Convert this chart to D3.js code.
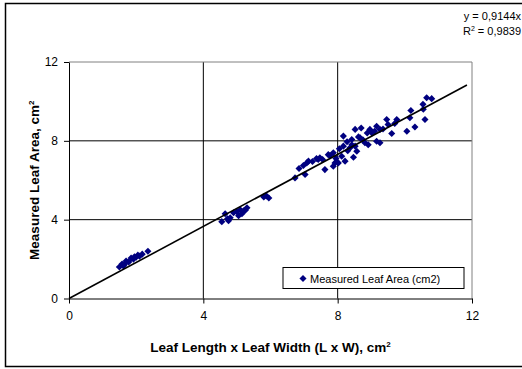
<!DOCTYPE html>
<html lang="en">
<head>
<meta charset="UTF-8">
<title>Leaf Area vs L x W</title>
<script src="https://d3js.org/d3.v7.min.js"></script>
<style>
  body { margin: 0; background: #fff; }
  svg { font-family: "Liberation Sans", Arial, sans-serif; }
  .tick text { font-size: 12px; fill: #000; }
</style>
</head>
<body>
<div id="chart"></div>
<script>
// measured points: L x W (cm2) and measured leaf area (cm2)
const lw = [
  1.50, 1.58, 1.65, 1.70, 1.78, 1.85, 1.92, 2.00, 2.05, 2.10, 2.18, 2.35, 1.62, 1.95,
  4.55, 4.65, 4.75, 4.80, 4.90, 5.00, 5.05, 5.10, 5.20, 5.30, 5.15, 4.72, 5.25,
  5.80, 5.88, 5.95,
  6.73, 6.98, 7.03, 7.08, 7.13, 7.37, 7.42, 7.47, 7.62, 7.72, 7.77, 7.87, 7.87, 7.92,
  8.02, 8.12, 8.17, 8.17, 8.22, 8.37, 8.42, 8.42, 8.47, 8.52, 8.52, 8.57, 8.67, 8.81,
  8.88, 8.91, 8.96, 9.10, 9.16, 9.16, 9.26, 9.26, 9.46, 9.50, 9.61, 9.70, 9.76,
  10.06, 10.15, 10.18, 10.30, 10.54, 10.55, 10.60, 10.65, 10.80,
  6.85, 7.25, 7.55, 8.05, 8.30, 8.62, 8.75, 9.02, 9.35, 8.28, 7.95, 8.70
];
const area = [
  1.60, 1.75, 1.72, 1.90, 1.85, 2.05, 2.00, 2.10, 2.20, 2.15, 2.25, 2.40, 1.65, 2.12,
  3.90, 4.30, 3.95, 4.10, 4.35, 4.40, 4.20, 4.50, 4.45, 4.60, 4.30, 4.05, 4.48,
  5.15, 5.20, 5.10,
  6.12, 6.75, 6.29, 6.88, 6.97, 7.10, 7.05, 7.14, 6.54, 7.30, 7.25, 7.39, 6.71, 6.88,
  6.88, 7.22, 8.24, 7.73, 6.97, 7.65, 8.07, 7.80, 7.17, 8.58, 7.73, 7.47, 8.15, 7.90,
  8.40, 7.80, 8.58, 8.49, 8.74, 7.98, 8.58, 7.90, 9.08, 8.83, 8.37, 8.88, 9.08,
  8.49, 9.17, 9.54, 8.70, 9.85, 9.60, 9.08, 10.19, 10.14,
  6.60, 6.95, 7.05, 7.60, 7.50, 8.20, 8.05, 8.40, 8.60, 7.95, 7.10, 8.65
];
const xTicks = [0, 4, 8, 12];
const yTicks = [0, 4, 8, 12];
const slope = 0.9144;
const fitRange = [0, 11.85];
const eqLines = ["y = 0,9144x", "R2 = 0,9839"];
const seriesName = "Measured Leaf Area (cm2)";

const W = 522, H = 369;
const plot = { left: 69, right: 472, top: 62, bottom: 298.5 };

const svg = d3.select("#chart").append("svg")
  .attr("width", W).attr("height", H);

// outer chart frame (right side runs off the image)
svg.append("rect")
  .attr("x", 5.5).attr("y", 3.5)
  .attr("width", 530).attr("height", 363)
  .attr("fill", "#fff").attr("stroke", "#000").attr("stroke-width", 1.5);

const x = d3.scaleLinear().domain([0, 12]).range([plot.left, plot.right]);
const y = d3.scaleLinear().domain([0, 12]).range([plot.bottom, plot.top]);

// gridlines
svg.append("g").selectAll("line")
  .data(xTicks.filter(d => d > 0 && d < 12))
  .join("line")
  .attr("x1", d => x(d)).attr("x2", d => x(d))
  .attr("y1", plot.top).attr("y2", plot.bottom)
  .attr("stroke", "#000").attr("stroke-width", 1);

svg.append("g").selectAll("line")
  .data(yTicks.filter(d => d > 0 && d < 12))
  .join("line")
  .attr("x1", plot.left).attr("x2", plot.right)
  .attr("y1", d => y(d)).attr("y2", d => y(d))
  .attr("stroke", "#000").attr("stroke-width", 1);

// plot area border (top, right)
svg.append("path")
  .attr("d", `M${plot.left},${y(12)}H${plot.right}V${plot.bottom}`)
  .attr("fill", "none").attr("stroke", "#808080").attr("stroke-width", 1);

// axes
const xAxis = svg.append("g")
  .attr("transform", `translate(0,${plot.bottom})`)
  .call(d3.axisBottom(x).tickValues(xTicks).tickSize(5).tickSizeOuter(0).tickPadding(8));
const yAxis = svg.append("g")
  .attr("transform", `translate(${plot.left},0)`)
  .call(d3.axisLeft(y).tickValues(yTicks).tickSize(5).tickSizeOuter(0).tickPadding(6));
[xAxis, yAxis].forEach(a => {
  a.select(".domain").attr("stroke", "#000");
  a.selectAll(".tick line").attr("stroke", "#000");
  a.selectAll(".tick text").attr("font-family", null).attr("font-size", null);
});

// points (diamonds)
const diamond = d3.symbol().type(d3.symbolDiamond2).size(32);
svg.append("g").selectAll("path")
  .data(d3.range(lw.length))
  .join("path")
  .attr("transform", i => `translate(${x(lw[i])},${y(area[i])})`)
  .attr("d", diamond)
  .attr("fill", "#000080");

// linear fit line through origin
svg.append("line")
  .attr("x1", x(fitRange[0])).attr("y1", y(slope * fitRange[0]))
  .attr("x2", x(fitRange[1])).attr("y2", y(slope * fitRange[1]))
  .attr("stroke", "#000").attr("stroke-width", 1.6);

// equation text
const eq = svg.append("g").attr("font-size", 11).attr("text-anchor", "end");
eq.append("text").attr("x", 521).attr("y", 20).text(eqLines[0]);
const r2 = eq.append("text").attr("x", 521).attr("y", 35);
r2.append("tspan").text("R");
r2.append("tspan").attr("dy", -4).attr("font-size", 7).text("2");
r2.append("tspan").attr("dy", 4).text(eqLines[1].slice(2));

// axis titles
const xt = svg.append("text")
  .attr("x", (plot.left + plot.right) / 2).attr("y", 352)
  .attr("text-anchor", "middle").attr("font-size", 13.5).attr("font-weight", "bold");
xt.append("tspan").text("Leaf Length x Leaf Width (L x W), cm");
xt.append("tspan").attr("dy", -5).attr("font-size", 8).text("2");

const yt = svg.append("text")
  .attr("transform", `translate(39,${(plot.top + plot.bottom) / 2}) rotate(-90)`)
  .attr("text-anchor", "middle").attr("font-size", 13.5).attr("font-weight", "bold");
yt.append("tspan").text("Measured Leaf Area, cm");
yt.append("tspan").attr("dy", -5).attr("font-size", 8).text("2");

// legend
const lg = svg.append("g").attr("transform", "translate(283,267.5)");
lg.append("rect").attr("width", 181).attr("height", 21)
  .attr("fill", "#fff").attr("stroke", "#000").attr("stroke-width", 1);
lg.append("path").attr("transform", "translate(20,11)").attr("d", diamond).attr("fill", "#000080");
lg.append("text").attr("x", 27).attr("y", 15).attr("font-size", 11).text(seriesName);
</script>
</body>
</html>
